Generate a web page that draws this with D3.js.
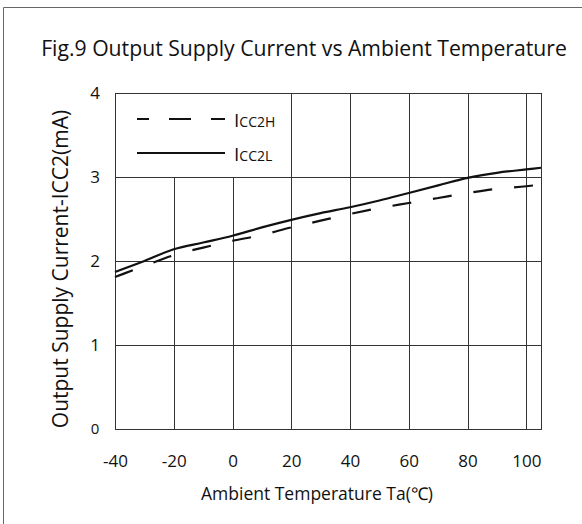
<!DOCTYPE html>
<html><head><meta charset="utf-8">
<script src="https://cdn.jsdelivr.net/npm/d3@7"></script>
<style>body{margin:0;background:#fff}svg{display:block}text{font-family:"Open Sans",sans-serif;fill:#111}</style>
</head><body><svg id="c" width="582" height="524"></svg>
<script>
const temps = [-40,-30,-20,-10,0,10,20,30,40,50,60,70,80,90,100,105];
const icc2L = [1.87,2.00,2.14,2.22,2.30,2.40,2.49,2.57,2.64,2.72,2.81,2.90,2.99,3.05,3.09,3.11];
const icc2H = [1.81,1.94,2.07,2.16,2.24,2.31,2.40,2.48,2.56,2.63,2.69,2.75,2.81,2.86,2.89,2.91];
const xTicks = [-40,-20,0,20,40,60,80,100];
const yTicks = [0,1,2,3,4];
const title = "Fig.9 Output Supply Current vs Ambient Temperature";
const xTitle = "Ambient Temperature Ta(℃)";
const yTitle = "Output Supply Current-ICC2(mA)";

const svg = d3.select("#c");
const L=115, R=541, T=93, B=429;
const x = d3.scaleLinear().domain([-40,105]).range([L,R]);
const y = d3.scaleLinear().domain([0,4]).range([B,T]);

// outer frame
svg.append("path").attr("d","M3.5,524V7.5H582").attr("fill","none").attr("stroke","#666").attr("stroke-width",1);

svg.append("text").attr("x",304).attr("y",56).attr("text-anchor","middle").attr("font-size",21.2).text(title);

const g = svg.append("g");
g.selectAll("line.h").data(yTicks.filter(d=>d>0&&d<4)).join("line")
 .attr("x1",L).attr("x2",R).attr("y1",d=>Math.round(y(d))+0.5).attr("y2",d=>Math.round(y(d))+0.5)
 .attr("stroke","#333").attr("stroke-width",1);
g.selectAll("line.v").data(xTicks.filter(d=>d>-40)).join("line")
 .attr("x1",d=>Math.round(x(d))+0.5).attr("x2",d=>Math.round(x(d))+0.5)
 .attr("y1",d=>d<=0?Math.round(y(3)):T).attr("y2",B)
 .attr("stroke","#333").attr("stroke-width",1);
g.append("rect").attr("x",L+0.5).attr("y",T+0.5).attr("width",R-L).attr("height",B-T)
 .attr("fill","none").attr("stroke","#333").attr("stroke-width",1);

const fmt = d => String(d);
const xAxis = d3.axisBottom(x).tickValues(xTicks).tickSize(0).tickPadding(26).tickFormat(fmt);
const ax = svg.append("g").attr("transform",`translate(0,${B})`).call(xAxis);
ax.select(".domain").remove();
ax.selectAll("text").attr("font-size",17).attr("font-family","Open Sans").attr("fill","#111");
const yAxis = d3.axisLeft(y).tickValues(yTicks).tickSize(0).tickPadding(14).tickFormat(fmt);
const ay = svg.append("g").attr("transform",`translate(${L},0)`).call(yAxis);
ay.select(".domain").remove();
ay.selectAll("text").attr("font-size",d=>d===0?15:17).attr("font-family","Open Sans").attr("fill","#111").attr("text-anchor","middle").attr("dx",-6);

svg.append("text").attr("x",317).attr("y",500).attr("text-anchor","middle").attr("font-size",17.5).text(xTitle);
svg.append("text").attr("transform","translate(68,269) rotate(-90)").attr("text-anchor","middle").attr("font-size",21).text(yTitle);

const line = d3.line().x((d,i)=>x(temps[i])).y(d=>y(d)).curve(d3.curveMonotoneX);
svg.append("path").datum(icc2L).attr("d",line).attr("fill","none").attr("stroke","#111").attr("stroke-width",2.2);
svg.append("path").datum(icc2H).attr("d",line).attr("fill","none").attr("stroke","#111").attr("stroke-width",2.2).attr("stroke-dasharray","19,22");

const lg = svg.append("g");
lg.append("line").attr("x1",137).attr("x2",225).attr("y1",119).attr("y2",119).attr("stroke","#111").attr("stroke-width",2.2).attr("stroke-dasharray","22,20").attr("stroke-dashoffset",10);
lg.append("line").attr("x1",137).attr("x2",225).attr("y1",153).attr("y2",153).attr("stroke","#111").attr("stroke-width",2.2);
const names = [["I","CC2H",127],["I","CC2L",161]];
names.forEach(n=>{
  const t = lg.append("text").attr("x",234).attr("y",n[2]);
  t.append("tspan").attr("font-size",19).text(n[0]);
  t.append("tspan").attr("font-size",14).text(n[1]);
});
</script></body></html>
